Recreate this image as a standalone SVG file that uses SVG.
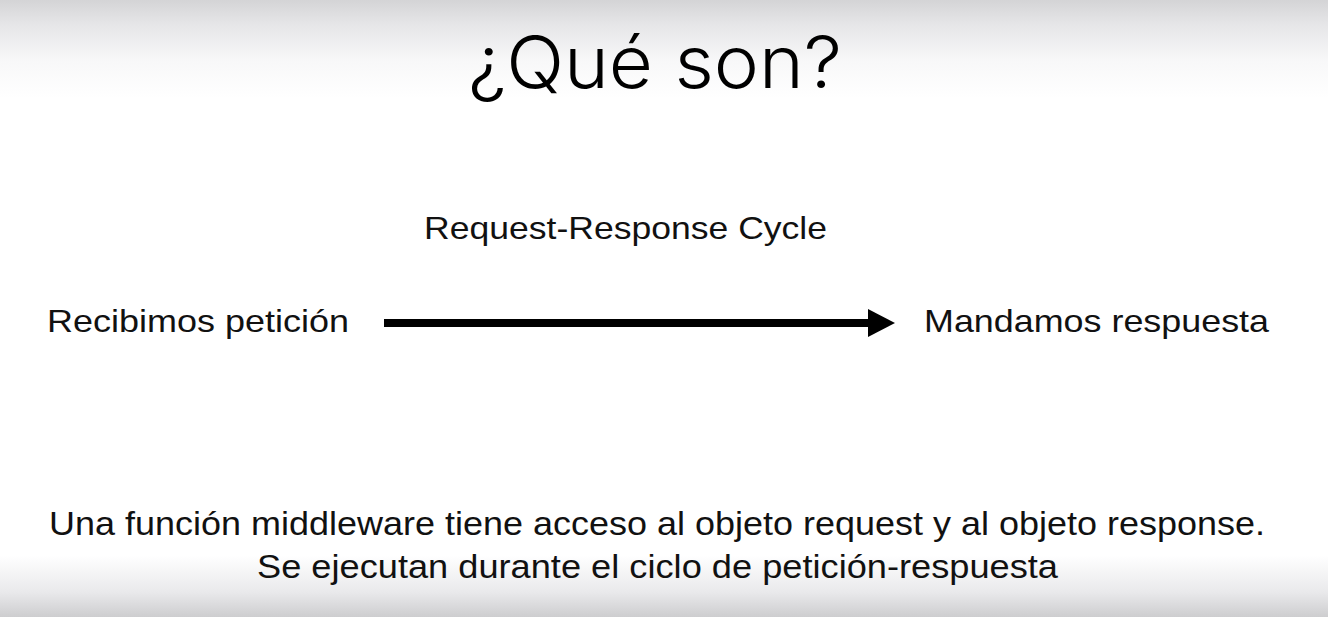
<svg xmlns="http://www.w3.org/2000/svg" width="1328" height="617" viewBox="0 0 1328 617">
  <defs>
    <linearGradient id="bg" x1="0" y1="0" x2="0" y2="617" gradientUnits="userSpaceOnUse">
      <stop offset="0" stop-color="#d4d4d6"/>
      <stop offset="0.04" stop-color="#e6e6e8"/>
      <stop offset="0.1" stop-color="#f8f8f9"/>
      <stop offset="0.16" stop-color="#ffffff"/>
      <stop offset="0.9" stop-color="#ffffff"/>
      <stop offset="0.96" stop-color="#e9e9eb"/>
      <stop offset="1" stop-color="#cdcdcf"/>
    </linearGradient>
    <marker id="head" markerUnits="userSpaceOnUse" markerWidth="28" markerHeight="28" refX="0" refY="14" orient="auto">
      <path d="M0,0 L27,14 L0,28 Z" fill="#000"/>
    </marker>
    <style>
      text { font-family: "Liberation Sans", Arial, sans-serif; fill: #111; }
      .title { font-family: Inter, "Liberation Sans", Arial, sans-serif; font-weight: 300; font-size: 72px; fill: #000; }
      .label { font-size: 32px; }
      .note { font-size: 33px; }
      .conn { stroke: #000; stroke-width: 8; fill: none; }
    </style>
  </defs>
  <rect x="0" y="0" width="1328" height="617" fill="url(#bg)"/>

  <g id="title">
    <text class="title" x="468" y="88" textLength="374" lengthAdjust="spacingAndGlyphs">¿Qué son?</text>
  </g>

  <g id="cycle-label">
    <text class="label" x="424" y="239" textLength="403" lengthAdjust="spacingAndGlyphs">Request-Response Cycle</text>
  </g>

  <g id="node-request">
    <text class="label" x="47" y="332" textLength="302" lengthAdjust="spacingAndGlyphs">Recibimos petición</text>
  </g>

  <g id="node-response">
    <text class="label" x="924" y="332" textLength="345" lengthAdjust="spacingAndGlyphs">Mandamos respuesta</text>
  </g>

  <g id="connectors">
    <path class="conn" d="M384,323 L868,323" marker-end="url(#head)"/>
  </g>

  <g id="notes">
    <text class="note" x="49" y="535" textLength="1216" lengthAdjust="spacingAndGlyphs">Una función middleware tiene acceso al objeto request y al objeto response.</text>
    <text class="note" x="257" y="578" textLength="801" lengthAdjust="spacingAndGlyphs">Se ejecutan durante el ciclo de petición-respuesta</text>
  </g>
</svg>
